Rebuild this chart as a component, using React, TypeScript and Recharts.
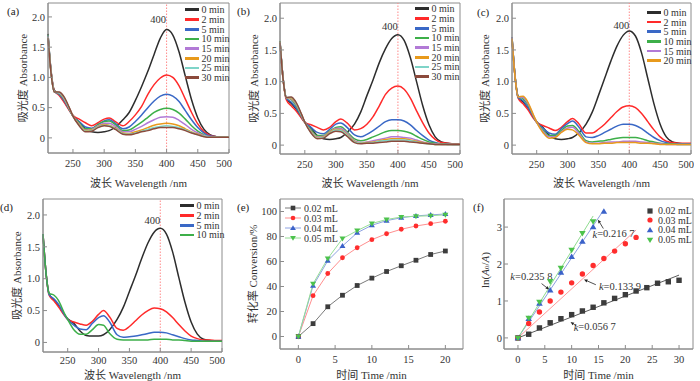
import React from "react";
import {
  LineChart,
  ComposedChart,
  Line,
  XAxis,
  YAxis,
  ReferenceLine,
  ReferenceArea,
  ReferenceDot,
  Legend,
} from "recharts";

const FONT = "'Liberation Serif', 'Noto Sans CJK SC', serif";
const AXIS = "#8c8c8c";
const INK = "#333";

// ---- UV-vis spectra (a)-(d) ----
const WL = [210, 215, 220, 228, 235, 245, 250, 260, 270, 280, 290, 300, 308, 318, 330, 340, 350, 360, 370, 380, 390, 400, 410, 420, 430, 440, 450, 460, 470, 480, 490, 500];

const TIME_NAMES = ["0 min", "2 min", "5 min", "10 min", "15 min", "20 min", "25 min", "30 min"];
const SPEC_COLORS = ["#2d2d2d", "#ff2a2a", "#3a68c6", "#3daf49", "#b27ad6", "#e89a1c", "#7fd4c8", "#8c4a3c"];

// panel (a)
const A0 = [1.72, 1.1, 0.79, 0.72, 0.62, 0.45, 0.37, 0.26, 0.15, 0.1, 0.09, 0.1, 0.12, 0.18, 0.3, 0.42, 0.62, 0.85, 1.1, 1.38, 1.65, 1.79, 1.7, 1.42, 1.02, 0.63, 0.33, 0.14, 0.05, 0.02, 0.01, 0.01];
const A2 = [1.68, 1.08, 0.78, 0.7, 0.6, 0.44, 0.37, 0.31, 0.25, 0.2, 0.25, 0.31, 0.33, 0.27, 0.2, 0.27, 0.38, 0.52, 0.72, 0.88, 0.99, 1.04, 1.0, 0.86, 0.64, 0.42, 0.23, 0.1, 0.04, 0.02, 0.01, 0.01];
const A5 = [1.7, 1.08, 0.77, 0.72, 0.63, 0.45, 0.36, 0.27, 0.18, 0.16, 0.22, 0.28, 0.3, 0.24, 0.15, 0.18, 0.27, 0.38, 0.5, 0.61, 0.69, 0.72, 0.69, 0.6, 0.45, 0.3, 0.17, 0.08, 0.03, 0.02, 0.01, 0.01];
const A10 = [1.7, 1.08, 0.77, 0.73, 0.65, 0.46, 0.36, 0.25, 0.15, 0.15, 0.22, 0.27, 0.28, 0.22, 0.12, 0.13, 0.19, 0.26, 0.34, 0.42, 0.47, 0.49, 0.47, 0.41, 0.31, 0.2, 0.11, 0.05, 0.02, 0.01, 0.01, 0.01];
const A15 = [1.68, 1.08, 0.76, 0.74, 0.66, 0.47, 0.36, 0.23, 0.13, 0.14, 0.2, 0.24, 0.24, 0.19, 0.1, 0.1, 0.14, 0.19, 0.25, 0.3, 0.34, 0.35, 0.34, 0.29, 0.22, 0.14, 0.08, 0.04, 0.02, 0.01, 0.01, 0.01];
const A20 = [1.66, 1.07, 0.76, 0.75, 0.67, 0.47, 0.36, 0.22, 0.12, 0.13, 0.19, 0.22, 0.21, 0.16, 0.08, 0.07, 0.1, 0.13, 0.17, 0.21, 0.23, 0.24, 0.23, 0.2, 0.15, 0.1, 0.06, 0.03, 0.01, 0.01, 0.01, 0.01];
const A25 = [1.66, 1.07, 0.76, 0.75, 0.68, 0.47, 0.36, 0.21, 0.11, 0.12, 0.18, 0.21, 0.2, 0.15, 0.07, 0.06, 0.08, 0.11, 0.14, 0.17, 0.19, 0.2, 0.19, 0.17, 0.13, 0.09, 0.05, 0.03, 0.01, 0.01, 0.01, 0.01];
const A30 = [1.65, 1.06, 0.76, 0.76, 0.69, 0.48, 0.36, 0.2, 0.1, 0.11, 0.17, 0.2, 0.19, 0.14, 0.06, 0.05, 0.07, 0.1, 0.12, 0.15, 0.17, 0.17, 0.17, 0.15, 0.12, 0.08, 0.05, 0.02, 0.01, 0.01, 0.01, 0.01];

// panel (b)
const B0 = [1.62, 1.05, 0.74, 0.66, 0.58, 0.43, 0.36, 0.27, 0.15, 0.1, 0.09, 0.1, 0.12, 0.2, 0.33, 0.52, 0.78, 1.03, 1.3, 1.52, 1.68, 1.74, 1.65, 1.38, 1.0, 0.62, 0.32, 0.13, 0.05, 0.03, 0.02, 0.02];
const B2 = [1.62, 1.04, 0.72, 0.62, 0.55, 0.42, 0.36, 0.32, 0.28, 0.24, 0.28, 0.37, 0.41, 0.35, 0.24, 0.26, 0.33, 0.45, 0.62, 0.8, 0.9, 0.93, 0.88, 0.74, 0.54, 0.35, 0.19, 0.09, 0.04, 0.03, 0.02, 0.02];
const B5 = [1.64, 1.05, 0.74, 0.68, 0.6, 0.44, 0.36, 0.28, 0.2, 0.18, 0.25, 0.33, 0.35, 0.28, 0.16, 0.13, 0.17, 0.23, 0.3, 0.37, 0.4, 0.4, 0.38, 0.32, 0.23, 0.15, 0.08, 0.04, 0.02, 0.02, 0.01, 0.01];
const B10 = [1.64, 1.05, 0.75, 0.72, 0.64, 0.45, 0.36, 0.24, 0.15, 0.15, 0.22, 0.28, 0.29, 0.21, 0.1, 0.07, 0.09, 0.13, 0.17, 0.21, 0.23, 0.23, 0.22, 0.19, 0.14, 0.09, 0.05, 0.03, 0.02, 0.01, 0.01, 0.01];
const B15 = [1.63, 1.05, 0.75, 0.73, 0.66, 0.46, 0.36, 0.22, 0.13, 0.14, 0.21, 0.26, 0.26, 0.19, 0.07, 0.04, 0.05, 0.07, 0.09, 0.11, 0.13, 0.13, 0.12, 0.11, 0.08, 0.05, 0.03, 0.02, 0.01, 0.01, 0.01, 0.01];
const B20 = [1.63, 1.04, 0.75, 0.74, 0.67, 0.47, 0.36, 0.21, 0.12, 0.13, 0.2, 0.25, 0.24, 0.17, 0.06, 0.03, 0.04, 0.05, 0.07, 0.09, 0.1, 0.1, 0.1, 0.08, 0.06, 0.04, 0.02, 0.01, 0.01, 0.01, 0.01, 0.01];
const B25 = [1.62, 1.04, 0.75, 0.75, 0.68, 0.47, 0.36, 0.2, 0.11, 0.12, 0.19, 0.24, 0.23, 0.16, 0.05, 0.03, 0.03, 0.04, 0.06, 0.07, 0.08, 0.08, 0.08, 0.07, 0.05, 0.03, 0.02, 0.01, 0.01, 0.01, 0.01, 0.01];
const B30 = [1.62, 1.04, 0.75, 0.76, 0.69, 0.48, 0.36, 0.19, 0.1, 0.11, 0.18, 0.22, 0.21, 0.14, 0.04, 0.02, 0.03, 0.03, 0.04, 0.05, 0.06, 0.06, 0.06, 0.05, 0.04, 0.03, 0.02, 0.01, 0.01, 0.01, 0.01, 0.01];

// panel (c)
const C0 = [1.7, 1.08, 0.76, 0.68, 0.6, 0.44, 0.37, 0.28, 0.16, 0.1, 0.09, 0.1, 0.12, 0.19, 0.33, 0.52, 0.78, 1.05, 1.32, 1.56, 1.73, 1.8, 1.72, 1.45, 1.05, 0.65, 0.33, 0.13, 0.05, 0.03, 0.02, 0.02];
const C2 = [1.68, 1.07, 0.74, 0.65, 0.57, 0.42, 0.36, 0.31, 0.27, 0.23, 0.28, 0.37, 0.42, 0.34, 0.19, 0.19, 0.25, 0.33, 0.43, 0.53, 0.6, 0.62, 0.59, 0.5, 0.37, 0.24, 0.13, 0.06, 0.04, 0.03, 0.03, 0.03];
const C5 = [1.7, 1.08, 0.75, 0.7, 0.61, 0.44, 0.36, 0.27, 0.19, 0.17, 0.26, 0.34, 0.38, 0.29, 0.13, 0.12, 0.15, 0.2, 0.25, 0.3, 0.33, 0.33, 0.31, 0.26, 0.19, 0.12, 0.07, 0.04, 0.02, 0.02, 0.02, 0.02];
const C10 = [1.7, 1.08, 0.76, 0.73, 0.65, 0.45, 0.36, 0.24, 0.15, 0.15, 0.23, 0.3, 0.31, 0.22, 0.07, 0.05, 0.06, 0.07, 0.09, 0.11, 0.12, 0.12, 0.12, 0.1, 0.07, 0.05, 0.03, 0.02, 0.02, 0.01, 0.01, 0.01];
const C15 = [1.7, 1.08, 0.76, 0.75, 0.67, 0.46, 0.36, 0.22, 0.13, 0.13, 0.21, 0.27, 0.28, 0.19, 0.05, 0.03, 0.03, 0.04, 0.05, 0.05, 0.06, 0.06, 0.06, 0.05, 0.04, 0.03, 0.02, 0.01, 0.01, 0.01, 0.01, 0.01];
const C20 = [1.68, 1.07, 0.76, 0.77, 0.69, 0.47, 0.36, 0.2, 0.11, 0.12, 0.2, 0.25, 0.24, 0.16, 0.04, 0.02, 0.02, 0.03, 0.03, 0.04, 0.04, 0.04, 0.04, 0.03, 0.03, 0.02, 0.01, 0.01, 0.01, 0.01, 0.01, 0.01];

// panel (d)
const D0 = [1.7, 1.08, 0.76, 0.66, 0.58, 0.43, 0.37, 0.3, 0.18, 0.11, 0.1, 0.1, 0.12, 0.2, 0.36, 0.55, 0.8, 1.05, 1.32, 1.56, 1.73, 1.79, 1.7, 1.42, 1.02, 0.63, 0.32, 0.13, 0.05, 0.03, 0.02, 0.02];
const D2 = [1.7, 1.08, 0.74, 0.65, 0.56, 0.42, 0.36, 0.32, 0.29, 0.27, 0.33, 0.44, 0.5, 0.4, 0.22, 0.19, 0.25, 0.34, 0.43, 0.5, 0.54, 0.53, 0.48, 0.39, 0.28, 0.18, 0.1, 0.06, 0.04, 0.04, 0.03, 0.03];
const D5 = [1.7, 1.08, 0.75, 0.68, 0.6, 0.43, 0.36, 0.27, 0.21, 0.2, 0.3, 0.39, 0.42, 0.32, 0.12, 0.08, 0.09, 0.1, 0.12, 0.14, 0.16, 0.16, 0.15, 0.12, 0.09, 0.06, 0.04, 0.03, 0.02, 0.02, 0.02, 0.02];
const D10 = [1.7, 1.08, 0.77, 0.74, 0.66, 0.45, 0.36, 0.2, 0.13, 0.13, 0.2, 0.28, 0.27, 0.14, 0.05, 0.04, 0.04, 0.04, 0.04, 0.04, 0.05, 0.05, 0.05, 0.04, 0.04, 0.03, 0.02, 0.02, 0.02, 0.02, 0.02, 0.02];

const SPEC_XTICKS = [250, 300, 350, 400, 450, 500];
const SPEC_YTICKS = [0, 0.5, 1, 1.5, 2];

// ---- (e) conversion vs time ----
const E_TIME = [0, 2, 4, 6, 8, 10, 12, 14, 16, 18, 20];
const E_002 = [0, 10.3, 23.8, 33, 40.8, 46.7, 52, 56.6, 61, 65.6, 68.4];
const E_003 = [0, 32.7, 50.4, 63, 71, 77.5, 82.2, 85.8, 88.4, 90.3, 92.2];
const E_004 = [0, 40.6, 60.6, 72.4, 83, 89, 92.7, 95, 96.5, 97.3, 98];
const E_005 = [0, 42.2, 62.4, 78.3, 84.7, 90.4, 93.6, 95.6, 96.2, 96.6, 97.4];

// ---- (f) ln(A0/A) vs time ----
const F_T002 = [0, 2, 4, 6, 8, 10, 12, 14, 16, 18, 20, 22, 24, 26, 28, 30];
const F_002 = [0, 0.1, 0.27, 0.41, 0.52, 0.63, 0.73, 0.83, 0.95, 1.07, 1.17, 1.27, 1.36, 1.48, 1.52, 1.56];
const F_T003 = [0, 2, 4, 6, 8, 10, 12, 14, 16, 18, 20, 22];
const F_003 = [0, 0.39, 0.7, 1.0, 1.24, 1.49, 1.73, 1.96, 2.15, 2.35, 2.55, 2.72];
const F_T004 = [0, 2, 4, 6, 8, 10, 12, 14, 16];
const F_004 = [0, 0.52, 0.93, 1.29, 1.77, 2.2, 2.61, 3.0, 3.42];
const F_T005 = [0, 2, 4, 6, 8, 10, 12, 14];
const F_005 = [0, 0.54, 0.97, 1.53, 1.89, 2.38, 2.83, 3.15];
// fitted straight lines (start, end)
const FIT_002 = [[0, 0], [30, 1.7]];
const FIT_003 = [[0, 0], [22, 2.92]];
const FIT_004 = [[0, 0], [15.5, 3.36]];
const FIT_005 = [[0, 0], [14, 3.3]];

const DOSE_NAMES = ["0.02 mL", "0.03 mL", "0.04 mL", "0.05 mL"];
const DOSE_MARK = ["square", "circle", "up", "down"];
const DOSE_COLORS = ["#3c3c3c", "#ff2d2d", "#3b62c9", "#4cc24c"];
const DOSE_LINES_E = ["#7a7a7a", "#ff8f8f", "#8ea2e2", "#96de96"];
const DOSE_LINES_F = ["#5a5a5a", "#ff9a9a", "#8c9fe0", "#8fdc8f"];

const tickStyle = { fontSize: 10.5, fill: INK, fontFamily: FONT };

function Marker({ cx, cy, kind, color, s = 5 }: any) {
  if (cx == null || cy == null) return null;
  if (kind === "square") return <rect x={cx - s / 2} y={cy - s / 2} width={s} height={s} fill={color} />;
  if (kind === "circle") return <circle cx={cx} cy={cy} r={s / 2} fill={color} />;
  const w = s / 2 + 0.6;
  if (kind === "up")
    return <polygon points={`${cx},${cy - s * 0.6} ${cx - w},${cy + s * 0.42} ${cx + w},${cy + s * 0.42}`} fill={color} />;
  return <polygon points={`${cx},${cy + s * 0.6} ${cx - w},${cy - s * 0.42} ${cx + w},${cy - s * 0.42}`} fill={color} />;
}

const xLabel = (text: React.ReactNode, cx: number, y: number) => () => (
  <text x={cx} y={y} textAnchor="middle" dominantBaseline="central" fontSize={11} fill={INK} fontFamily={FONT}>
    {text}
  </text>
);

const yLabel = (text: React.ReactNode, x: number, cy: number) => () => (
  <text
    x={x}
    y={cy}
    transform={`rotate(-90, ${x}, ${cy})`}
    textAnchor="middle"
    dominantBaseline="central"
    fontSize={11}
    fill={INK}
    fontFamily={FONT}
  >
    {text}
  </text>
);

const textShape = (content: React.ReactNode, size = 10.5) => (p: any) => (
  <text x={p.cx} y={p.cy} textAnchor="middle" dominantBaseline="central" fontSize={size} fill={INK} fontFamily={FONT}>
    {content}
  </text>
);

const arrowShape = (p: any) => {
  const { x1, y1, x2, y2 } = p;
  const a = Math.atan2(y2 - y1, x2 - x1);
  const L = 3.5;
  const W = 1.6;
  const bx = x2 - L * Math.cos(a);
  const by = y2 - L * Math.sin(a);
  const pts = `${x2},${y2} ${bx - W * Math.sin(a)},${by + W * Math.cos(a)} ${bx + W * Math.sin(a)},${by - W * Math.cos(a)}`;
  return (
    <g>
      <line x1={x1} y1={y1} x2={bx} y2={by} stroke="#222" strokeWidth={0.8} />
      <polygon points={pts} fill="#222" />
    </g>
  );
};

// keep legend rows in series order (Recharts sorts by name otherwise)
const ordered = (payload: any[], names: string[]) =>
  (payload || [])
    .filter((p) => names.includes(p.value))
    .sort((a, b) => names.indexOf(a.value) - names.indexOf(b.value));

function SpecLegend({ payload }: any) {
  return (
    <div style={{ fontSize: 10, color: INK, fontFamily: FONT }}>
      {ordered(payload, TIME_NAMES).map((p: any) => (
        <div key={p.value} style={{ display: "flex", alignItems: "center", height: 9.7, whiteSpace: "nowrap" }}>
          <span style={{ display: "inline-block", width: 14, height: 2.8, background: p.color, marginRight: 2.5 }} />
          <span>{p.value}</span>
        </div>
      ))}
    </div>
  );
}

function DoseLegend({ payload, withLine }: any) {
  return (
    <div style={{ fontSize: 10, color: INK, fontFamily: FONT }}>
      {ordered(payload, DOSE_NAMES).map((p: any) => {
        const i = DOSE_NAMES.indexOf(p.value);
        return (
          <div key={p.value} style={{ display: "flex", alignItems: "center", height: withLine ? 10 : 9.6, whiteSpace: "nowrap" }}>
            <svg width={withLine ? 16 : 8} height={8} style={{ marginRight: withLine ? 3 : 4 }}>
              {withLine && <line x1={0} y1={4} x2={16} y2={4} stroke={DOSE_LINES_E[i]} strokeWidth={1} />}
              <Marker cx={withLine ? 8 : 4} cy={4} kind={DOSE_MARK[i]} color={DOSE_COLORS[i]} s={withLine ? 4.6 : 5.2} />
            </svg>
            <span>{p.value}</span>
          </div>
        );
      })}
    </div>
  );
}

type Box = { left: number; top: number; w: number; h: number; yw: number; xh: number; mt: number; mr: number };

function SpecPanel({ series, box, yDomain, legendAt, peak, xl, yl, xTickMargin }: any) {
  const data = WL.map((w, i) => {
    const row: Record<string, number> = { wl: w };
    series.forEach((s: number[], j: number) => {
      row["s" + j] = s[i];
    });
    return row;
  });
  const b: Box = box;
  return (
    <div style={{ position: "absolute", left: b.left, top: b.top }}>
      <LineChart width={b.w} height={b.h} data={data} margin={{ top: b.mt, right: b.mr, bottom: 0, left: 0 }}>
        <ReferenceArea x1={210} x2={500} y1={yDomain[0]} y2={yDomain[1]} fill="none" stroke={AXIS} />
        <XAxis
          dataKey="wl"
          type="number"
          domain={[210, 500]}
          ticks={SPEC_XTICKS}
          height={b.xh}
          stroke={AXIS}
          tick={tickStyle}
          tickSize={-4}
          tickMargin={xTickMargin}
          label={xLabel("波长 Wavelength /nm", xl[0], xl[1])}
        />
        <YAxis
          type="number"
          domain={yDomain}
          ticks={SPEC_YTICKS}
          width={b.yw}
          stroke={AXIS}
          tick={tickStyle}
          tickSize={-4}
          tickMargin={7}
          tickFormatter={(v: number) => (v === 0 ? "0" : v.toFixed(1))}
          label={yLabel("吸光度 Absorbance", yl[0], yl[1])}
        />
        <ReferenceLine x={400} stroke="#ff8a8a" strokeDasharray="1.5 1.5" />
        <ReferenceDot x={peak[0]} y={peak[1]} r={0} shape={textShape("400", 10.5)} />
        {series.map((_: number[], j: number) => (
          <Line
            key={j}
            dataKey={"s" + j}
            name={TIME_NAMES[j]}
            type="monotone"
            stroke={SPEC_COLORS[j]}
            strokeWidth={1.5}
            dot={false}
            isAnimationActive={false}
          />
        ))}
        <Legend
          layout="horizontal"
          verticalAlign="middle"
          align="center"
          wrapperStyle={{ left: legendAt[0], top: legendAt[1], width: "auto", height: "auto" }}
          content={(props: any) => <SpecLegend {...props} />}
        />
      </LineChart>
    </div>
  );
}

function ConversionPanel() {
  const data = E_TIME.map((t, i) => ({ t, c02: E_002[i], c03: E_003[i], c04: E_004[i], c05: E_005[i] }));
  const keys = ["c02", "c03", "c04", "c05"];
  return (
    <div style={{ position: "absolute", left: 232, top: 190 }}>
      <LineChart width={234} height={191} data={data} margin={{ top: 9, right: 3, bottom: 0, left: 0 }}>
        <ReferenceArea x1={-2.5} x2={22.4} y1={-10} y2={110} fill="none" stroke={AXIS} />
        <XAxis
          dataKey="t"
          type="number"
          domain={[-2.5, 22.4]}
          ticks={[0, 5, 10, 15, 20]}
          height={32}
          stroke={AXIS}
          tick={tickStyle}
          tickSize={-4}
          tickMargin={11}
          label={xLabel("时间 Time /min", 139.5, 185)}
        />
        <YAxis
          type="number"
          domain={[-10, 110]}
          ticks={[0, 20, 40, 60, 80, 100]}
          width={48}
          stroke={AXIS}
          tick={tickStyle}
          tickSize={-4}
          tickMargin={7}
          label={yLabel("转化率 Conversion/%", 21, 84)}
        />
        {keys.map((k, i) => (
          <Line
            key={k}
            dataKey={k}
            name={DOSE_NAMES[i]}
            type="linear"
            stroke={DOSE_LINES_E[i]}
            strokeWidth={1}
            dot={(p: any) => <Marker key={p.index} cx={p.cx} cy={p.cy} kind={DOSE_MARK[i]} color={DOSE_COLORS[i]} s={4.8} />}
            isAnimationActive={false}
          />
        ))}
        <Legend
          layout="horizontal"
          verticalAlign="middle"
          align="center"
          wrapperStyle={{ left: 53, top: 13, width: "auto", height: "auto" }}
          content={(props: any) => <DoseLegend {...props} withLine />}
        />
      </LineChart>
    </div>
  );
}

function KineticsPanel() {
  const pts = [
    F_T002.map((x, i) => ({ x, y: F_002[i] })),
    F_T003.map((x, i) => ({ x, y: F_003[i] })),
    F_T004.map((x, i) => ({ x, y: F_004[i] })),
    F_T005.map((x, i) => ({ x, y: F_005[i] })),
  ];
  const fits = [FIT_002, FIT_003, FIT_004, FIT_005].map((f) => f.map(([x, y]) => ({ x, y })));
  const kTxt = (v: string) => (
    <>
      <tspan fontStyle="italic">k</tspan>=0.{v}
    </>
  );
  const lnLabel = (
    <>
      ln(<tspan fontStyle="italic">A</tspan>
      <tspan fontSize={7} dy={2}>
        0
      </tspan>
      <tspan dy={-2}>/</tspan>
      <tspan fontStyle="italic">A</tspan>)
    </>
  );
  return (
    <div style={{ position: "absolute", left: 466, top: 190 }}>
      <ComposedChart width={230} height={191} margin={{ top: 9, right: 3, bottom: 0, left: 0 }}>
        <ReferenceArea x1={-2.6} x2={32.6} y1={-0.3} y2={3.76} fill="none" stroke={AXIS} />
        <XAxis
          dataKey="x"
          type="number"
          domain={[-2.6, 32.6]}
          ticks={[0, 5, 10, 15, 20, 25, 30]}
          height={32}
          stroke={AXIS}
          tick={tickStyle}
          tickSize={-4}
          tickMargin={11}
          label={xLabel("时间 Time /min", 132.5, 185)}
        />
        <YAxis
          type="number"
          domain={[-0.3, 3.76]}
          ticks={[0, 1, 2, 3]}
          width={38}
          stroke={AXIS}
          tick={tickStyle}
          tickSize={-4}
          tickMargin={6}
          label={yLabel(lnLabel, 19, 80)}
        />
        {fits.map((f, i) => (
          <Line
            key={"fit" + i}
            data={f}
            dataKey="y"
            name={"fit " + DOSE_NAMES[i]}
            type="linear"
            stroke={DOSE_LINES_F[i]}
            strokeWidth={1}
            dot={false}
            legendType="none"
            isAnimationActive={false}
          />
        ))}
        {pts.map((d, i) => (
          <Line
            key={"pt" + i}
            data={d}
            dataKey="y"
            name={DOSE_NAMES[i]}
            stroke="none"
            dot={(p: any) => <Marker key={p.index} cx={p.cx} cy={p.cy} kind={DOSE_MARK[i]} color={DOSE_COLORS[i]} s={5.4} />}
            isAnimationActive={false}
          />
        ))}
        <ReferenceDot x={17.8} y={2.82} r={0} shape={textShape(kTxt("216 7"), 10.5)} />
        <ReferenceDot x={2.5} y={1.67} r={0} shape={textShape(kTxt("235 8"), 10.5)} />
        <ReferenceDot x={19.0} y={1.4} r={0} shape={textShape(kTxt("133 9"), 10.5)} />
        <ReferenceDot x={14.3} y={0.3} r={0} shape={textShape(kTxt("056 7"), 10.5)} />
        <ReferenceLine segment={[{ x: 15.9, y: 2.96 }, { x: 14.9, y: 3.2 }]} shape={arrowShape} />
        <ReferenceLine segment={[{ x: 4.4, y: 1.47 }, { x: 5.8, y: 1.31 }]} shape={arrowShape} />
        <ReferenceLine segment={[{ x: 14.5, y: 1.44 }, { x: 12.3, y: 1.58 }]} shape={arrowShape} />
        <ReferenceLine segment={[{ x: 10.9, y: 0.32 }, { x: 9.8, y: 0.43 }]} shape={arrowShape} />
        <Legend
          layout="horizontal"
          verticalAlign="middle"
          align="center"
          wrapperStyle={{ left: 180, top: 16, width: "auto", height: "auto" }}
          content={(props: any) => <DoseLegend {...props} />}
        />
      </ComposedChart>
    </div>
  );
}

const TAGS = [
  { t: "(a)", x: 7, y: 5 },
  { t: "(b)", x: 237, y: 5 },
  { t: "(c)", x: 477, y: 6 },
  { t: "(d)", x: 0, y: 201 },
  { t: "(e)", x: 237, y: 201 },
  { t: "(f)", x: 473, y: 201 },
];

export default function App() {
  return (
    <div
      style={{
        position: "absolute",
        left: 0,
        top: 0,
        width: 700,
        height: 381,
        background: "#fff",
        fontFamily: FONT,
        color: INK,
        overflow: "hidden",
      }}
    >
      <SpecPanel
        series={[A0, A2, A5, A10, A15, A20, A25, A30]}
        box={{ left: 0, top: 0, w: 232, h: 190, yw: 48, xh: 37, mt: 3, mr: 3 }}
        yDomain={[-0.25, 2.23]}
        legendAt={[185, 5]}
        peak={[386.5, 1.95]}
        xl={[138.5, 183]}
        yl={[23, 78]}
        xTickMargin={11}
      />
      <SpecPanel
        series={[B0, B2, B5, B10, B15, B20, B25, B30]}
        box={{ left: 232, top: 0, w: 231, h: 190, yw: 48, xh: 36, mt: 3, mr: 3 }}
        yDomain={[-0.14, 2.24]}
        legendAt={[183, 4]}
        peak={[387, 1.87]}
        xl={[138, 183]}
        yl={[22, 78.5]}
        xTickMargin={11}
      />
      <SpecPanel
        series={[C0, C2, C5, C10, C15, C20]}
        box={{ left: 464, top: 0, w: 230, h: 190, yw: 48, xh: 36, mt: 3, mr: 3 }}
        yDomain={[-0.14, 2.24]}
        legendAt={[183, 7.5]}
        peak={[387, 1.89]}
        xl={[137.5, 183]}
        yl={[21, 78.5]}
        xTickMargin={11}
      />
      <SpecPanel
        series={[D0, D2, D5, D10]}
        box={{ left: 0, top: 190, w: 225, h: 191, yw: 43, xh: 29, mt: 9, mr: 3 }}
        yDomain={[-0.15, 2.25]}
        legendAt={[180, 11]}
        peak={[387, 1.91]}
        xl={[132.5, 185]}
        yl={[17, 85.5]}
        xTickMargin={9}
      />
      <ConversionPanel />
      <KineticsPanel />
      {TAGS.map((g) => (
        <div key={g.t} style={{ position: "absolute", left: g.x, top: g.y, fontSize: 11, lineHeight: "13px", color: "#222" }}>
          {g.t}
        </div>
      ))}
    </div>
  );
}
